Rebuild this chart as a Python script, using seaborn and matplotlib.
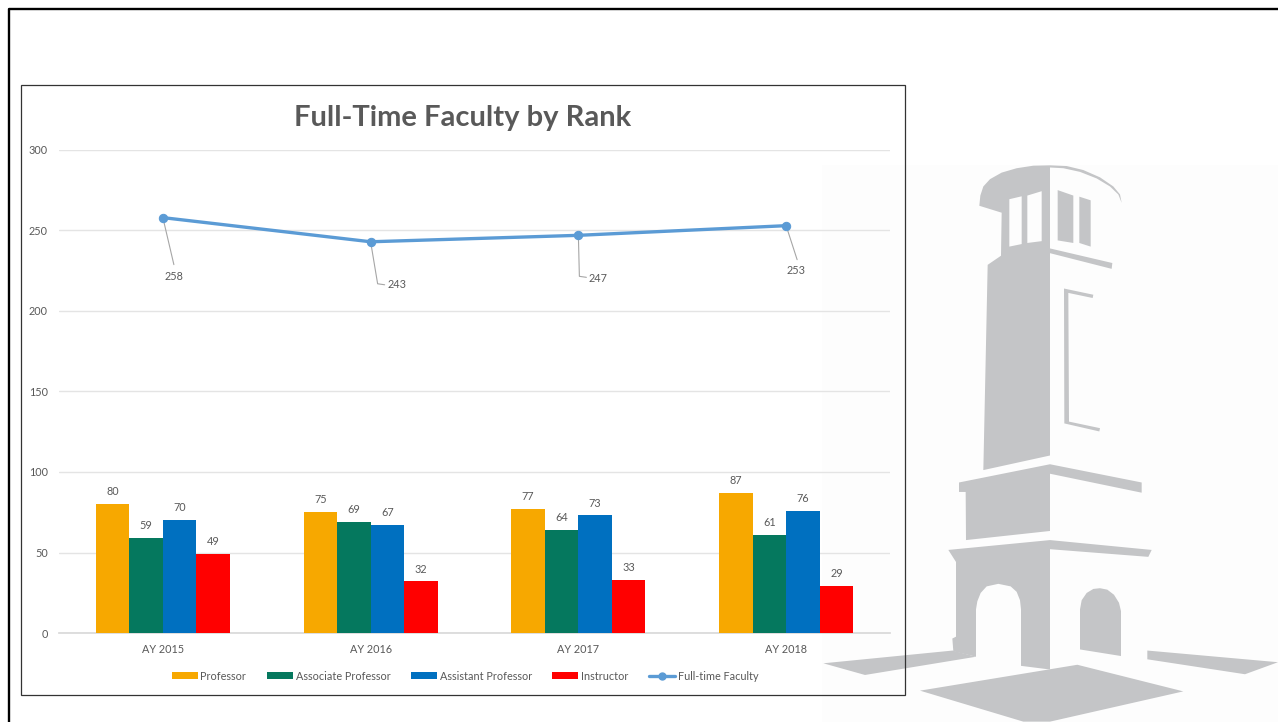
"""Full-Time Faculty by Rank, combo chart over the bell tower slide background."""

import matplotlib
matplotlib.use('Agg')
import matplotlib.pyplot as plt
import numpy as np
import pandas as pd
import seaborn as sns
from matplotlib.lines import Line2D
from matplotlib.patches import Patch, Polygon, Rectangle

years = ['AY 2015', 'AY 2016', 'AY 2017', 'AY 2018']
professor = [80, 75, 77, 87]
associate = [59, 69, 64, 61]
assistant = [70, 67, 73, 76]
instructor = [49, 32, 33, 29]
full_time = [258, 243, 247, 253]
y_ticks = [0, 50, 100, 150, 200, 250, 300]

RANK_COLORS = {
    'Professor': '#F7A800',
    'Associate Professor': '#05785E',
    'Assistant Professor': '#0070C0',
    'Instructor': '#FF0000',
}
LINE_COLOR = '#5B9BD5'
TEXT_COLOR = '#595959'
TOWER = '#C4C5C7'
PANEL = '#FDFDFD'
FONT_SIZE = 7.8

W, H = 1278, 722

TOWER_SHAPES = [
    [(690, 42), (640, 43), (590, 50), (545, 62), (510, 80), (490, 100), (481, 125), (478, 153),
     (545, 172), (543, 290), (503, 315), (490, 878), (690, 838)],
    [(690, 42), (740, 44), (790, 55), (840, 75), (880, 100), (900, 122), (905, 145), (895, 122),
     (870, 100), (830, 78), (780, 60), (730, 50), (690, 48)],
    [(713, 110), (760, 125), (760, 255), (713, 248)],
    [(778, 128), (812, 138), (812, 265), (778, 255)],
    [(690, 270), (877, 310), (875, 326), (690, 283)],
    [(732, 380), (820, 397), (818, 406), (745, 392), (747, 745), (840, 763), (838, 772), (733, 750)],
    [(417, 912), (690, 862), (690, 1045), (438, 1070), (437, 938), (417, 938)],
    [(690, 862), (965, 912), (965, 940), (690, 888)],
    [(385, 1097), (690, 1070), (995, 1097), (985, 1116), (690, 1095), (690, 1425), (603, 1415),
     (603, 1260), (600, 1235), (590, 1212), (572, 1197), (535, 1190), (500, 1197), (482, 1215),
     (472, 1238), (468, 1260), (468, 1390), (400, 1375), (397, 1340), (408, 1335), (408, 1130)],
    [(780, 1370), (780, 1260), (785, 1235), (800, 1215), (820, 1204), (840, 1202), (862, 1206),
     (882, 1220), (897, 1242), (903, 1265), (903, 1388)],
    [(10, 1408), (398, 1373), (468, 1390), (135, 1440)],
    [(982, 1373), (1374, 1405), (1275, 1438), (982, 1397)],
    [(300, 1483), (772, 1412), (1090, 1485), (690, 1568), (610, 1568)],
]
TOWER_WINDOWS = [
    [(568, 135), (605, 127), (605, 258), (568, 265)],
    [(622, 125), (665, 113), (665, 250), (622, 255)],
]


def to_slide(points):
    return [(820 + x / 3, 150 + y / 2.743) for x, y in points]


def draw_background(fig):
    bg = fig.add_axes([0, 0, 1, 1], zorder=0)
    bg.set_xlim(0, W)
    bg.set_ylim(H, 0)
    bg.axis('off')
    bg.add_patch(Rectangle((822, 165), W - 822, H - 165, fc=PANEL, ec='none'))
    for shape in TOWER_SHAPES:
        bg.add_patch(Polygon(to_slide(shape), fc=TOWER, ec='none'))
    for shape in TOWER_WINDOWS:
        bg.add_patch(Polygon(to_slide(shape), fc=PANEL, ec='none'))
    # slide edge and chart frame
    bg.add_line(Line2D([9, 9, W], [H, 9, 9], color='black', lw=1.7))
    bg.add_patch(Rectangle((20.5, 84.5), 884.5, 610, fc='none', ec='#333333', lw=0.9))


sns.set_theme(style='white')
plt.rcParams['font.family'] = ['Lato', 'DejaVu Sans']

fig = plt.figure(figsize=(W / 100, H / 100), dpi=100, facecolor='white')
draw_background(fig)

ax = fig.add_axes([59 / W, 1 - 633 / H, (890 - 59) / W, (633 - 150) / H], zorder=1)
ax.patch.set_alpha(0)

bars = pd.DataFrame({
    'year': years * 4,
    'rank': np.repeat(list(RANK_COLORS), len(years)),
    'count': professor + associate + assistant + instructor,
})
sns.barplot(data=bars, x='year', y='count', hue='rank', palette=RANK_COLORS, width=0.645, gap=0,
            saturation=1, legend=False, edgecolor='none', linewidth=0, ax=ax, zorder=3)
for container in ax.containers:
    ax.bar_label(container, padding=5, fontsize=FONT_SIZE, color=TEXT_COLOR)

sns.lineplot(x=np.arange(len(years)), y=full_time, color=LINE_COLOR, linewidth=2.4, marker='o',
             markersize=6, markeredgecolor=LINE_COLOR, errorbar=None, ax=ax, zorder=4)

ax.set_xlim(-0.5, 3.5)
ax.set_ylim(0, 300)
ax.set_yticks(y_ticks)
ax.set_xlabel('')
ax.set_ylabel('')
ax.tick_params(axis='both', length=0, labelsize=FONT_SIZE, labelcolor=TEXT_COLOR)
ax.tick_params(axis='x', pad=8)
ax.tick_params(axis='y', pad=8)
ax.grid(axis='y', color='#E4E4E4', linewidth=1)
ax.set_axisbelow(True)
for side in ['top', 'left', 'right']:
    ax.spines[side].set_visible(False)
ax.spines['bottom'].set_color('#D9D9D9')
ax.spines['bottom'].set_zorder(2)

# leader lines for the total labels, offsets in pixels from each point
leaders = [
    [(0, 0), (11, -47)],
    [(0, 0), (7, -42), (14, -43)],
    [(0, 0), (1, -41), (8, -42)],
    [(0, 0), (11, -34)],
]
label_offsets = [(11, -59), (26, -43), (20, -43), (10, -45)]
for i, total in enumerate(full_time):
    px, py = ax.transData.transform((i, total))
    xs = [px + dx for dx, dy in leaders[i]]
    ys = [py + dy for dx, dy in leaders[i]]
    ax.add_line(Line2D(xs, ys, color='#A6A6A6', lw=0.8, transform=None, zorder=3))
    ax.annotate(str(total), xy=(i, total), xytext=label_offsets[i], textcoords='offset pixels',
                ha='center', va='center', fontsize=FONT_SIZE, color=TEXT_COLOR)

fig.text(463 / W, 1 - 118 / H, 'Full-Time Faculty by Rank', ha='center', va='center',
         fontsize=21, fontweight='bold', color=TEXT_COLOR, zorder=5)

handles = [Patch(facecolor=c, edgecolor='none', label=name) for name, c in RANK_COLORS.items()]
handles.append(Line2D([0], [0], color=LINE_COLOR, lw=2.4, marker='o', markersize=5,
                      label='Full-time Faculty'))
fig.legend(handles=handles, loc='center', bbox_to_anchor=(465 / W, 1 - 676 / H), ncol=5,
           frameon=False, fontsize=FONT_SIZE, labelcolor=TEXT_COLOR, handlelength=2.4, handleheight=0.6,
           handletextpad=0.25, columnspacing=1.9, borderpad=0)

fig.savefig('out.png', dpi=100)
